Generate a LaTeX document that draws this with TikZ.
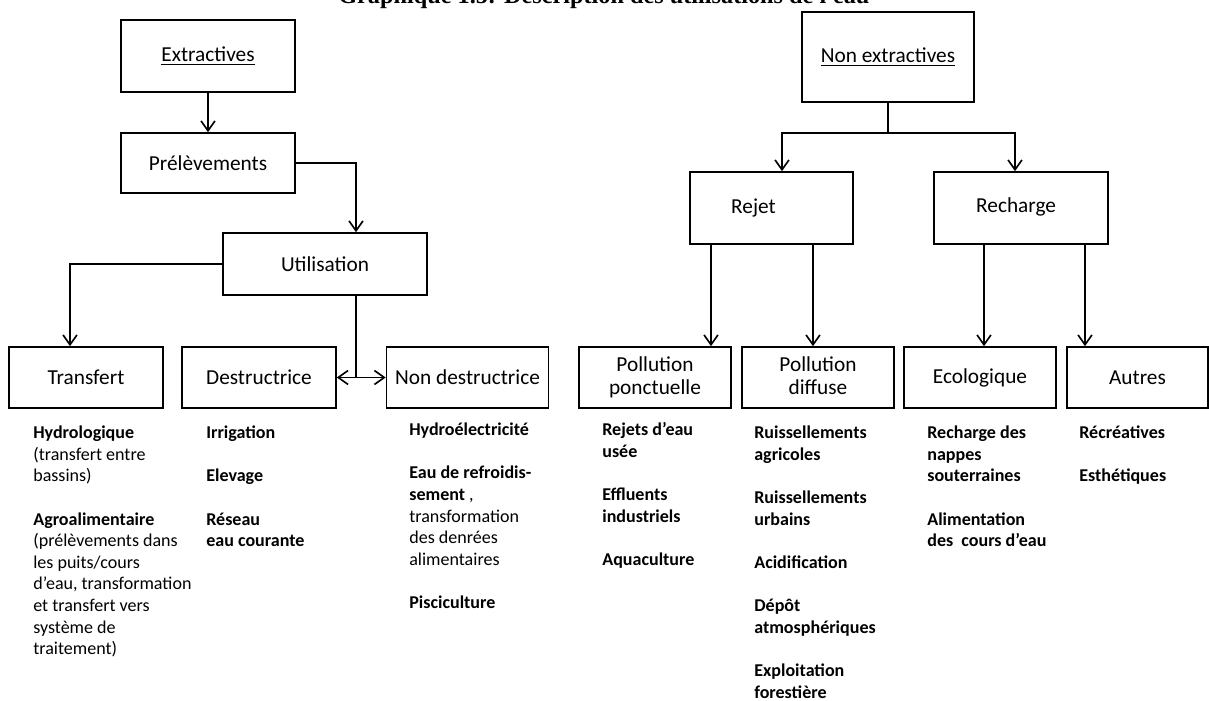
\documentclass[tikz,border=0pt]{standalone}
\usepackage{fontspec}
\setmainfont{Carlito}
\newfontfamily\titrefont{Liberation Serif}
\usetikzlibrary{positioning}
\usetikzlibrary{arrows.meta}
\newcommand{\px}{0.61pt}
\newcommand{\saut}{\\[13.2pt]}

\begin{document}
\begin{tikzpicture}[x=0.61pt,y=-0.61pt,
    boite/.style={draw, line width=1pt, inner sep=0pt, align=center, font=\fontsize{13}{14}\selectfont},
    bas/.style={boite, minimum height=61*\px},
    liste/.style={anchor=north west, inner sep=0pt, align=left, font=\fontsize{11}{13.2}\selectfont\bfseries},
    fleche/.style={line width=1pt, -{Straight Barb[length=6pt,width=8.5pt]}}]
    \useasboundingbox (0,0) rectangle (1209,701);
    %Titre
    \node(titre)[anchor=base west, inner sep=0pt, font=\titrefont\bfseries\fontsize{14.8}{18}\selectfont] at (338,4) {Graphique 1.5: Description des utilisations de l'eau};
    %Boites du haut
    \node(extr)[boite, minimum width=174*\px, minimum height=72*\px] at (208,56) {\underline{Extractives}};
    \node(prel)[boite, minimum width=174*\px, minimum height=60*\px] at (208,163) {Prélèvements};
    \node(util)[boite, minimum width=204*\px, minimum height=62*\px] at (325,264) {Utilisation};
    \node(nonextr)[boite, minimum width=172*\px, minimum height=90*\px] at (888,57) {\underline{Non extractives}};
    \node(rejet)[boite, minimum width=163*\px, minimum height=72*\px] at (771.5,208) {\hspace*{-22pt}Rejet};
    \node(recharge)[boite, minimum width=174*\px, minimum height=72*\px] at (1021,208) {\raisebox{3pt}{Recharge}\hspace*{6pt}};
    %Boites du bas
    \node(transf)[bas, minimum width=154*\px] at (86,377.5) {Transfert};
    \node(destr)[bas, minimum width=154*\px] at (259,377.5) {Destructrice};
    \node(nondestr)[bas, minimum width=162*\px] at (467.5,377.5) {Non destructrice};
    \node(ponct)[bas, minimum width=152*\px] at (655,377.5) {Pollution\\ponctuelle};
    \node(diffuse)[bas, minimum width=152*\px] at (818,377.5) {\raisebox{2pt}{Pollution}\\\raisebox{2pt}{diffuse}};
    \node(eco)[bas, minimum width=152*\px] at (980,377.5) {Ecologique};
    \node(autres)[bas, minimum width=141*\px] at (1137.5,377.5) {Autres};
    \coordinate (jonction) at (356,377.5);
    %Listes
    \node(ltransf)[liste] at (33,425.5) {Hydrologique\\\textmd{(transfert entre}\\\textmd{bassins)}\saut Agroalimentaire\\\textmd{(prélèvements dans}\\\textmd{les puits/cours}\\\textmd{d’eau, transformation}\\\textmd{et transfert vers}\\\textmd{système de}\\\textmd{traitement)}};
    \node(ldestr)[liste] at (206,425.5) {Irrigation\saut Elevage\saut Réseau\\eau courante};
    \node(lnondestr)[liste] at (409,422.5) {Hydroélectricité\saut Eau de refroidis-\\sement \textmd{,}\\\textmd{transformation}\\\textmd{des denrées}\\\textmd{alimentaires}\saut Pisciculture};
    \node(lponct)[liste] at (602,422.5) {Rejets d’eau\\usée\saut Effluents\\industriels\saut Aquaculture};
    \node(ldiffuse)[liste] at (754,425.5) {Ruissellements\\agricoles\saut Ruissellements\\urbains\saut Acidification\saut Dépôt\\atmosphériques\saut Exploitation\\forestière};
    \node(leco)[liste] at (927,425.5) {Recharge des\\nappes\\souterraines\saut Alimentation\\des\ \ cours d’eau};
    \node(lautres)[liste] at (1079,425.5) {Récréatives\saut Esthétiques};
    %Fleches
    \draw[fleche] (extr) -- (prel);
    \draw[fleche] (prel.east) -| ([xshift=31*\px]util.north);
    \draw[fleche] (util.west) -| ([xshift=-16*\px]transf.north);
    \draw[line width=1pt] (util.south -| jonction) -- (jonction);
    \draw[line width=1pt, {Straight Barb[length=6pt,width=8.5pt]}-{Straight Barb[length=6pt,width=8.5pt]}] (destr.east) -- (nondestr.west);
    \draw[fleche] (nonextr.south) -- ++(0,30) -| ([xshift=10.5*\px]rejet.north);
    \draw[fleche] (nonextr.south) -- ++(0,30) -| ([xshift=-6*\px]recharge.north);
    \draw[fleche] ([xshift=-60.5*\px]rejet.south) -- ([xshift=56*\px]ponct.north);
    \draw[fleche] ([xshift=41.5*\px]rejet.south) -- ([xshift=-5*\px]diffuse.north);
    \draw[fleche] ([xshift=-37*\px]recharge.south) -- ([xshift=4*\px]eco.north);
    \draw[fleche] ([xshift=64*\px]recharge.south) -- ([xshift=-52.5*\px]autres.north);
\end{tikzpicture}
\end{document}
